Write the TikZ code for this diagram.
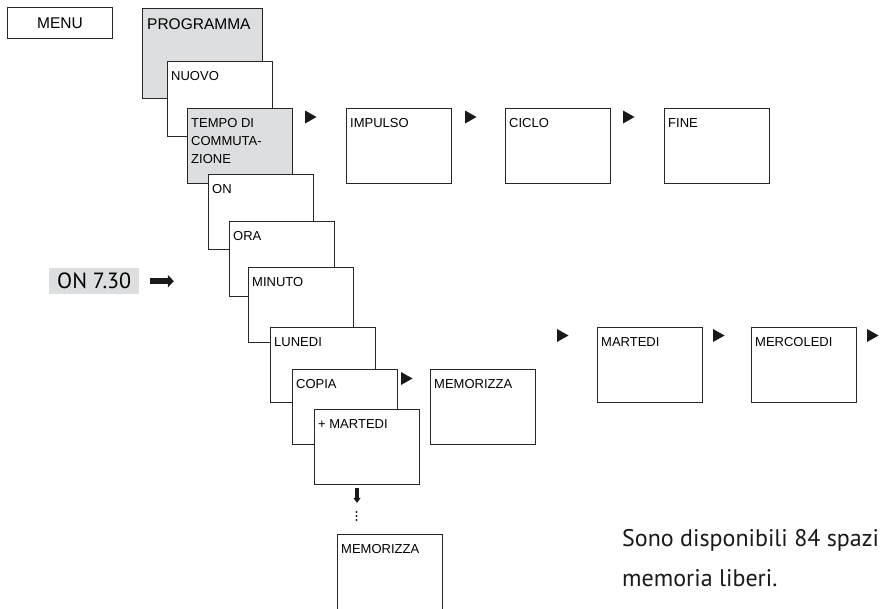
\documentclass[tikz,border=0pt]{standalone}
\usepackage{fontspec}
\setmainfont{Liberation Sans}
\newfontfamily\ptsans{PT Sans}
\usetikzlibrary{arrows.meta}

\definecolor{screengray}{RGB}{221,222,223}

\tikzset{
  screen/.style={draw=black!85, line width=0.9pt, fill=white, anchor=north west,
    minimum width=105pt, minimum height=75pt, inner sep=0pt},
  grayscreen/.style={screen, fill=screengray},
  caption/.style={anchor=north west, inner xsep=4pt, inner ysep=10.5pt, align=left,
    font=\fontsize{13}{18}\selectfont},
  bigcaption/.style={caption, inner xsep=5pt, font=\fontsize{15.5}{18}\selectfont},
  fatarrow/.style={line width=6pt, black!90, -{Triangle[length=6pt, width=12pt]}},
  downarrow/.style={line width=4pt, black!90, -{Triangle[length=5pt, width=7pt]}},
}

\begin{document}
\begin{tikzpicture}[x=1pt, y=-1pt]
    \useasboundingbox (0,0) rectangle (880,608);
    \clip (0,0) rectangle (880,608);

    % Menu
    \node[screen, minimum height=31pt, font=\fontsize{15.5}{18}\selectfont] (menu) at (7,7) {MENU};

    % Programma chain
    \node[grayscreen, minimum width=120pt, minimum height=90pt, label={[bigcaption]north west:PROGRAMMA}] (prog) at (142,8) {};
    \node[screen, label={[caption]north west:NUOVO}] (nuovo) at (167,61) {};
    \node[grayscreen, label={[caption]north west:{TEMPO DI\\COMMUTA-\\ZIONE}}] (tempo) at (187,108) {};
    \node[screen, label={[caption]north west:ON}] (on) at (208,174) {};
    \node[screen, label={[caption]north west:ORA}] (ora) at (229,221) {};
    \node[screen, label={[caption]north west:MINUTO}] (minuto) at (248,267) {};
    \node[screen, label={[caption]north west:LUNEDI}] (lunedi) at (270,327) {};
    \node[screen, label={[caption]north west:COPIA}] (copia) at (292,369) {};
    \node[screen, label={[caption]north west:+ MARTEDI}] (piumart) at (314,409) {};

    % Side screens
    \node[screen, label={[caption]north west:IMPULSO}] (impulso) at (346,108) {};
    \node[screen, label={[caption]north west:CICLO}] (ciclo) at (505,108) {};
    \node[screen, label={[caption]north west:FINE}] (fine) at (664,108) {};
    \node[screen, label={[caption]north west:MARTEDI}] (martedi) at (597,327) {};
    \node[screen, label={[caption]north west:MERCOLEDI}] (mercoledi) at (751,327) {};
    \node[screen, label={[caption]north west:MEMORIZZA}] (memo) at (430,369) {};
    \node[screen, minimum height=85pt, label={[caption]north west:MEMORIZZA}] (memofine) at (337,534) {};

    % Play triangles
    \foreach \x/\y in {305/110.5, 465/110.5, 623/110.5, 557/329, 713/329, 867/329, 401/372}
        \fill[black!90] (\x,\y) -- ++(11.5,6.5) -- ++(-11.5,6.5) -- cycle;

    % Display example
    \node[fill=screengray, anchor=north west, minimum width=90pt, minimum height=26pt, inner sep=0pt,
      font=\ptsans\fontsize{22}{22}\selectfont] (on730) at (49,268) {ON 7.30};
    \coordinate (fatA) at ([xshift=11pt]on730.east);
    \coordinate (fatB) at ([xshift=34.5pt]on730.east);
    \draw[fatarrow] (fatA) -- (fatB);

    % Down arrow and dots
    \coordinate (dnA) at ([shift={(43pt,-3pt)}]piumart.south west);
    \coordinate (dnB) at ([shift={(43pt,-18pt)}]piumart.south west);
    \draw[downarrow] (dnA) -- (dnB);
    \foreach \y in {512,516,520}
        \fill[black!90] (356.5,\y) circle (1.1pt);

    % Note
    \node[anchor=north west, inner sep=0pt, align=left, text=black!90,
      font=\ptsans\fontsize{24}{40}\selectfont] (liberi) at (622,529) {Sono disponibili 84 spazi\\memoria liberi.};
\end{tikzpicture}
\end{document}
